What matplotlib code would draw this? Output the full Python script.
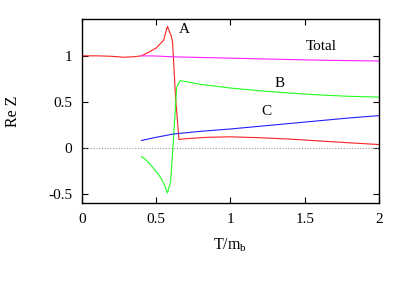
import numpy as np
import matplotlib
matplotlib.use("Agg")
import matplotlib.pyplot as plt

plt.rcParams['font.family'] = ['Liberation Serif', 'DejaVu Serif']
plt.rcParams['mathtext.fontset'] = 'custom'
plt.rcParams['mathtext.rm'] = 'Liberation Serif'

# curve A (red)
xA = [0.0, 0.1, 0.2, 0.28, 0.35, 0.4, 0.45, 0.5, 0.55, 0.575, 0.6, 0.61, 0.63, 0.653,
      0.67, 0.75, 0.85, 1.0, 1.2, 1.4, 1.6, 1.8, 2.0]
yA = [1.0, 1.0, 0.995, 0.985, 0.99, 1.0, 1.04, 1.085, 1.17, 1.32, 1.22, 1.15, 0.55, 0.09,
      0.095, 0.105, 0.115, 0.12, 0.11, 0.095, 0.075, 0.055, 0.036]

# Total (magenta)
xT = [0.4, 0.5, 0.6, 0.8, 1.0, 1.2, 1.4, 1.6, 1.8, 2.0]
yT = [1.0, 0.998, 0.99, 0.982, 0.975, 0.967, 0.96, 0.953, 0.948, 0.944]

# curve B (green)
xB = [0.4, 0.43, 0.46, 0.49, 0.52, 0.55, 0.575, 0.597, 0.62, 0.638, 0.66, 0.7, 0.8, 1.0,
      1.2, 1.4, 1.6, 1.8, 2.0]
yB = [-0.095, -0.13, -0.18, -0.24, -0.30, -0.38, -0.49, -0.37, 0.2, 0.66, 0.73, 0.72,
      0.69, 0.65, 0.62, 0.595, 0.575, 0.56, 0.552]

# curve C (blue)
xC = [0.4, 0.5, 0.615, 0.8, 1.0, 1.2, 1.4, 1.6, 1.8, 2.0]
yC = [0.08, 0.115, 0.15, 0.18, 0.205, 0.235, 0.265, 0.295, 0.325, 0.35]

labels = ['A', 'Total', 'B', 'C']
label_x = [0.69, 1.61, 1.33, 1.24]
label_y = [1.29, 1.10, 0.70, 0.39]

fig = plt.figure(figsize=(4.07, 2.84), dpi=100)
ax = fig.add_axes([0.2015, 0.285, 0.7295, 0.648])

ax.axhline(0, color='#999999', lw=0.8, ls=(0, (1, 1.5)))
ax.plot(xA, yA, color='#ff2020', lw=0.8)
ax.plot(xT, yT, color='#ff20ff', lw=0.8)
ax.plot(xB, yB, color='#20ff20', lw=0.8)
ax.plot(xC, yC, color='#2020ff', lw=0.8)

for t, x, y in zip(labels, label_x, label_y):
    ax.text(x, y, t, fontsize=11, ha='center', va='center')

ax.set_xlim(0, 2)
ax.set_ylim(-0.6, 1.4)
ax.set_xticks([0, 0.5, 1, 1.5, 2])
ax.set_xticklabels(['0', '0.5', '1', '1.5', '2'])
ax.set_yticks([-0.5, 0, 0.5, 1])
ax.set_yticklabels(['-0.5', '0', '0.5', '1'])
ax.tick_params(direction='in', length=4, width=0.8, top=True, right=True,
               labelsize=11, pad=7)
for s in ax.spines.values():
    s.set_linewidth(1.0)

ax.set_xlabel(r'T/m$_\mathrm{b}$', fontsize=11.5)
ax.xaxis.set_label_coords(0.5, -0.18)
ax.set_ylabel('Re Z', fontsize=11.5)
ax.yaxis.set_label_coords(-0.205, 0.5)

fig.savefig('out.png', dpi=100)
